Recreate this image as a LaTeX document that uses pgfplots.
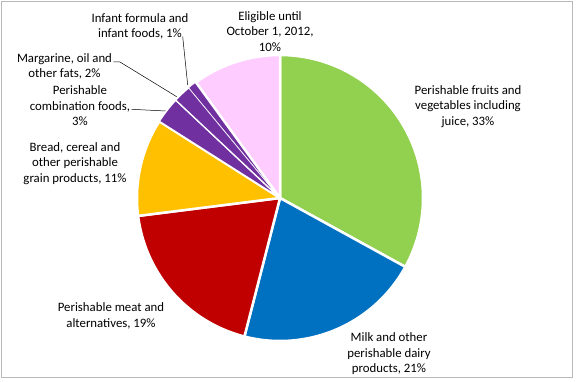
\documentclass[border=0pt]{standalone}
\usepackage{pgfplots}
\pgfplotsset{compat=1.18}
\usepackage{fontspec}
\setmainfont{Carlito}
\definecolor{cgreen}{HTML}{92D050}
\definecolor{cblue}{HTML}{0070C0}
\definecolor{cred}{HTML}{C00000}
\definecolor{cyellow}{HTML}{FFC000}
\definecolor{cpurple}{HTML}{7030A0}
\definecolor{cpink}{HTML}{FFCCFF}
\tikzset{lbl/.style={font=\fontsize{12.8}{15.5}\selectfont, align=center, text=black, inner sep=0pt}}
% #1 cumulative start (%), #2 share (%), #3 colour, #4 border width
\newcommand{\pieslice}[4]{%
  \pgfmathsetmacro{\sA}{90-3.6*(#1+#2)}%
  \pgfmathsetmacro{\sB}{90-3.6*(#1)}%
  \addplot[fill=#3, draw=white, line width=#4, line join=round,
    domain=\sA:\sB, samples=90, variable=\t]
    ({280+143*cos(\t)},{183+143*sin(\t)}) -- (axis cs:280,183) -- cycle;
}
\begin{document}
\begin{tikzpicture}
\useasboundingbox (0,0) rectangle (576pt,381pt);
\begin{axis}[
  at={(0,0)}, anchor=origin,
  scale only axis, width=576pt, height=381pt,
  xmin=0, xmax=576, ymin=0, ymax=381,
  hide axis, clip=false,
]
\draw[gray!55, line width=0.8pt] (axis cs:1.5,3.5) rectangle (axis cs:572.5,379.5);
% shares (%): 33, 21, 19, 11, 3, 2, 1, 10
\pieslice{0}{33}{cgreen}{2.5pt}
\pieslice{33}{21}{cblue}{2.5pt}
\pieslice{54}{19}{cred}{2.5pt}
\pieslice{73}{11}{cyellow}{2.5pt}
\pieslice{84}{3}{cpurple}{1.5pt}
\pieslice{87}{2}{cpurple}{1.2pt}
\pieslice{89}{1}{cpurple}{0.4pt}
\pieslice{90}{10}{cpink}{2.5pt}
% leader lines
\draw[black, line width=0.5pt] (axis cs:131.7,271.7) -- (axis cs:165.7,270);
\draw[black, line width=0.5pt] (axis cs:113.3,319) -- (axis cs:120,319) -- (axis cs:176.7,284.3);
\draw[black, line width=0.5pt] (axis cs:182.7,344.3) -- (axis cs:187.7,296);
% labels
\node[lbl] at (axis cs:468,274.5) {Perishable fruits and\\vegetables including\\juice, 33\%};
\node[lbl] at (axis cs:389,27) {Milk and other\\perishable dairy\\products, 21\%};
\node[lbl] at (axis cs:111,65) {Perishable meat and\\alternatives, 19\%};
\node[lbl] at (axis cs:75,217.5) {Bread, cereal and\\other perishable\\grain products, 11\%};
\node[lbl] at (axis cs:80,275) {Perishable\\combination foods,\\3\%};
\node[lbl] at (axis cs:64.5,314.5) {Margarine, oil and\\other fats, 2\%};
\node[lbl] at (axis cs:140,354.5) {Infant formula and\\infant foods, 1\%};
\node[lbl] at (axis cs:270,349.5) {Eligible until\\October 1, 2012,\\10\%};
\end{axis}
\end{tikzpicture}
\end{document}
